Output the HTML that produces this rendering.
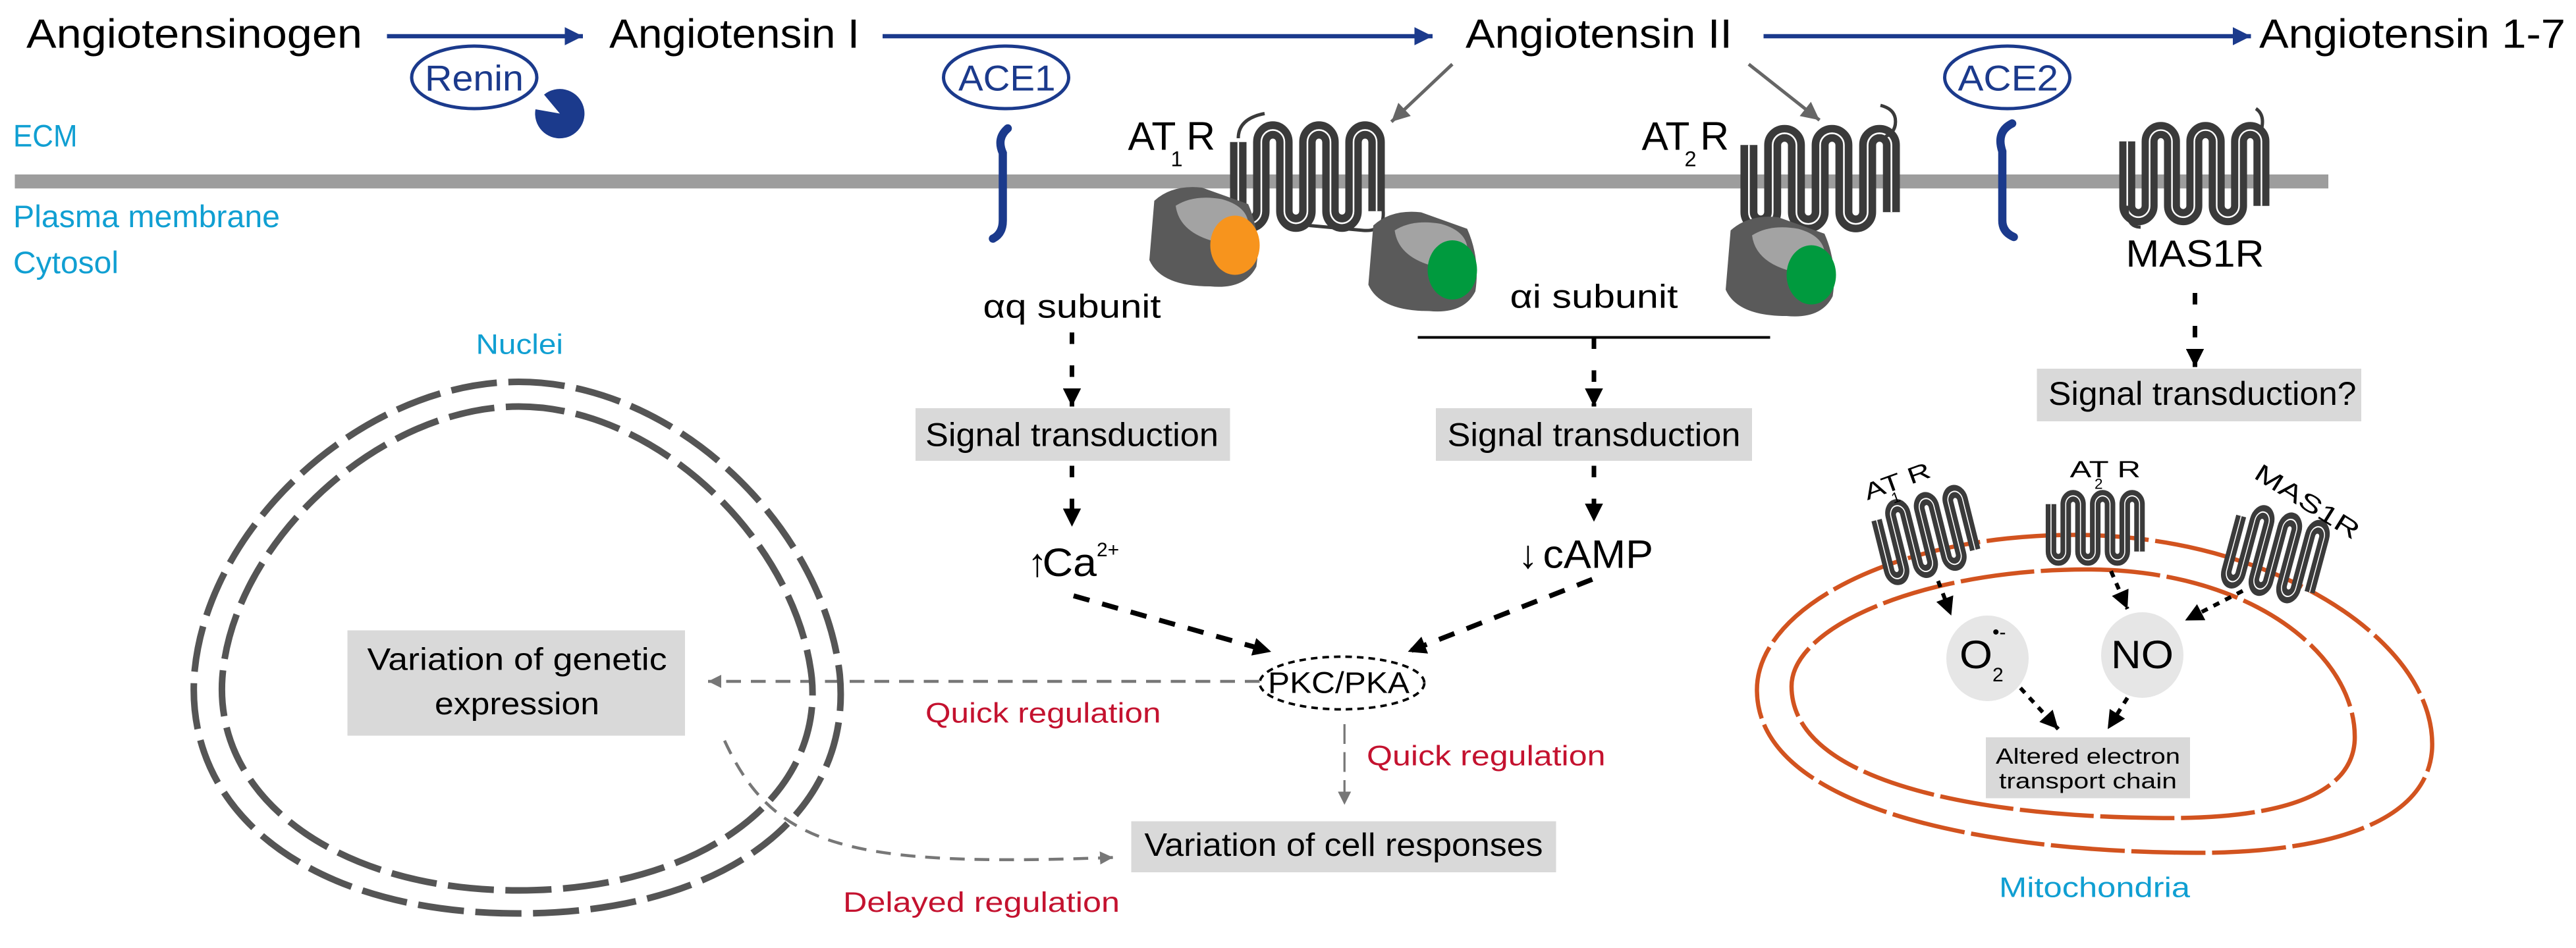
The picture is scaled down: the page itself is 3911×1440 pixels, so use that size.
<!DOCTYPE html>
<html><head><meta charset="utf-8"><style>
html,body{margin:0;padding:0;background:#fff;}
svg{display:block;}
text{font-family:"Liberation Sans",sans-serif;}
</style></head><body>
<svg width="3911" height="1440" viewBox="0 0 1564.4 576" preserveAspectRatio="none" xmlns="http://www.w3.org/2000/svg">
<defs>
<marker id="mn" viewBox="0 0 10 10" refX="10" refY="5" markerWidth="11" markerHeight="17" markerUnits="userSpaceOnUse" orient="auto"><path d="M0,0 L10,5 L0,10 z" fill="#1b3a8c"/></marker>
<marker id="mb" viewBox="0 0 10 10" refX="10" refY="5" markerWidth="13" markerHeight="11" markerUnits="userSpaceOnUse" orient="auto"><path d="M0,0 L10,5 L0,10 z" fill="#000"/></marker>
<marker id="mg" viewBox="0 0 10 10" refX="10" refY="5" markerWidth="13" markerHeight="11" markerUnits="userSpaceOnUse" orient="auto"><path d="M0,0 L10,5 L0,10 z" fill="#666"/></marker>
<marker id="mgs" viewBox="0 0 10 10" refX="10" refY="5" markerWidth="8" markerHeight="8" markerUnits="userSpaceOnUse" orient="auto"><path d="M0,0 L10,5 L0,10 z" fill="#777"/></marker>
<g id="rec">
<path d="M4,6 L4,46 A7,7 0 0 0 18,46 L18,6 A7,7 0 0 1 32,6 L32,46 A7,7 0 0 0 46,46 L46,6 A7,7 0 0 1 60,6 L60,46 A7,7 0 0 0 74,46 L74,6 A7,7 0 0 1 88,6 L88,46" fill="none" stroke="#3a3a3a" stroke-width="10"/>
<path d="M4,6 L4,46 A7,7 0 0 0 18,46 L18,6 A7,7 0 0 1 32,6 L32,46 A7,7 0 0 0 46,46 L46,6 A7,7 0 0 1 60,6 L60,46 A7,7 0 0 0 74,46 L74,6 A7,7 0 0 1 88,6 L88,46" fill="none" stroke="#fff" stroke-width="1"/>
</g>
</defs>

<rect x="9" y="106" width="1405" height="8.5" fill="#9d9d9d"/>

<g font-size="25" fill="#000">
<text x="16" y="29" textLength="204" lengthAdjust="spacingAndGlyphs">Angiotensinogen</text>
<text x="370" y="29" textLength="152" lengthAdjust="spacingAndGlyphs">Angiotensin I</text>
<text x="890" y="29" textLength="162" lengthAdjust="spacingAndGlyphs">Angiotensin II</text>
<text x="1372" y="29" textLength="186" lengthAdjust="spacingAndGlyphs">Angiotensin 1-7</text>
</g>
<g stroke="#1b3a8c" stroke-width="2.6" fill="none">
<line x1="235" y1="22" x2="354" y2="22" marker-end="url(#mn)"/>
<line x1="536" y1="22" x2="870" y2="22" marker-end="url(#mn)"/>
<line x1="1071" y1="22" x2="1367" y2="22" marker-end="url(#mn)"/>
<ellipse cx="288" cy="47" rx="38" ry="19" stroke-width="2"/>
<ellipse cx="611" cy="47" rx="38" ry="19" stroke-width="2"/>
<ellipse cx="1219" cy="47" rx="38" ry="19" stroke-width="2"/>
</g>
<g font-size="22" fill="#1b3a8c">
<text x="258" y="55" textLength="60" lengthAdjust="spacingAndGlyphs">Renin</text>
<text x="582" y="55" textLength="59" lengthAdjust="spacingAndGlyphs">ACE1</text>
<text x="1189" y="55" textLength="61" lengthAdjust="spacingAndGlyphs">ACE2</text>
</g>
<path d="M340,69 L330.4,57.5 A15,15 0 1,1 325.2,66.4 Z" fill="#1b3a8c"/>
<path d="M612,78 Q605,84 609,93 L609,134 Q609,142 603,145" fill="none" stroke="#1b3a8c" stroke-width="5" stroke-linecap="round"/>
<path d="M1222,75 Q1212,80 1216,92 L1216,134 Q1216,141 1223,144" fill="none" stroke="#1b3a8c" stroke-width="5" stroke-linecap="round"/>

<g fill="#109fd2" font-size="19">
<text x="8" y="89" textLength="39" lengthAdjust="spacingAndGlyphs">ECM</text>
<text x="8" y="138" textLength="162" lengthAdjust="spacingAndGlyphs">Plasma membrane</text>
<text x="8" y="166" textLength="64" lengthAdjust="spacingAndGlyphs">Cytosol</text>
<text x="289" y="215" font-size="17" textLength="53" lengthAdjust="spacingAndGlyphs">Nuclei</text>
<text x="1214" y="545" font-size="17" textLength="116" lengthAdjust="spacingAndGlyphs">Mitochondria</text>
</g>

<line x1="882" y1="39" x2="845" y2="74" stroke="#666" stroke-width="2" marker-end="url(#mg)"/>
<line x1="1062" y1="39" x2="1105" y2="73" stroke="#666" stroke-width="2" marker-end="url(#mg)"/>

<path d="M752,84 Q752,72 768,69" fill="none" stroke="#3a3a3a" stroke-width="2"/>
<use href="#rec" transform="translate(748,80) scale(1,1.05)"/>
<path d="M840,128 Q841,141 828,140 L795,137" fill="none" stroke="#3a3a3a" stroke-width="2"/>
<use href="#rec" transform="translate(1058,82) scale(1.03,1.02)"/>
<path d="M1145,83 Q1152,80 1151,72 Q1150,66 1142,64" fill="none" stroke="#3a3a3a" stroke-width="2"/>
<use href="#rec" transform="translate(1288,80) scale(0.97,0.98)"/>
<path d="M1292,125 Q1291,138 1300,138" fill="none" stroke="#3a3a3a" stroke-width="2"/>
<path d="M1373,80 Q1376,70 1370,66" fill="none" stroke="#3a3a3a" stroke-width="2"/>

<g font-size="24" fill="#000">
<text x="685" y="91" textLength="53" lengthAdjust="spacingAndGlyphs">AT R</text>
<text x="711" y="101" font-size="13">1</text>
<text x="997" y="91" textLength="53" lengthAdjust="spacingAndGlyphs">AT R</text>
<text x="1023" y="101" font-size="13">2</text>
<text x="1291" y="162" font-size="23" textLength="84" lengthAdjust="spacingAndGlyphs">MAS1R</text>
</g>

<path d="M701,122 Q712,112 730,114 L758,124 Q766,142 763,162 Q756,176 735,174 Q705,174 698,158 Z" fill="#5a5a5a"/>
<path d="M714,125 Q725,118 742,121 Q760,126 758,140 L735,146 Q716,140 714,125 Z" fill="#a3a3a3"/>
<ellipse cx="750" cy="149" rx="15" ry="18" fill="#f7941d"/>
<path d="M834,137 Q845,127 863,129 L891,139 Q899,157 896,177 Q889,191 868,189 Q838,189 831,173 Z" fill="#5a5a5a"/>
<path d="M847,140 Q858,133 875,136 Q893,141 891,155 L868,161 Q849,155 847,140 Z" fill="#a3a3a3"/>
<ellipse cx="882" cy="164" rx="15" ry="18" fill="#009a3e"/>
<path d="M1051,140 Q1062,130 1080,132 L1108,142 Q1116,160 1113,180 Q1106,194 1085,192 Q1055,192 1048,176 Z" fill="#5a5a5a"/>
<path d="M1064,143 Q1075,136 1092,139 Q1110,144 1108,158 L1085,164 Q1066,158 1064,143 Z" fill="#a3a3a3"/>
<ellipse cx="1100" cy="167" rx="15" ry="18" fill="#009a3e"/>

<g font-size="20" fill="#000">
<text x="597" y="193" textLength="108" lengthAdjust="spacingAndGlyphs">αq subunit</text>
<text x="917" y="187" textLength="102" lengthAdjust="spacingAndGlyphs">αi subunit</text>
</g>
<line x1="861" y1="205" x2="1075" y2="205" stroke="#000" stroke-width="1.6"/>

<g stroke="#000" stroke-width="2.8" stroke-dasharray="7 13" fill="none">
<line x1="651" y1="202" x2="651" y2="247" marker-end="url(#mb)"/>
<line x1="651" y1="283" x2="651" y2="320" marker-end="url(#mb)"/>
<line x1="968" y1="205" x2="968" y2="247" marker-end="url(#mb)"/>
<line x1="968" y1="283" x2="968" y2="317" marker-end="url(#mb)"/>
<line x1="1333" y1="178" x2="1333" y2="223" marker-end="url(#mb)"/>
</g>
<g stroke="#000" stroke-width="3" stroke-dasharray="10 8" fill="none">
<line x1="652" y1="362" x2="772" y2="396" marker-end="url(#mb)"/>
<line x1="967" y1="352" x2="855" y2="396" marker-end="url(#mb)"/>
</g>

<rect x="556" y="248" width="191" height="32" fill="#d9d9d9"/>
<rect x="872" y="248" width="192" height="32" fill="#d9d9d9"/>
<rect x="1237" y="224" width="197" height="32" fill="#d9d9d9"/>
<g font-size="20" fill="#000">
<text x="562" y="271" textLength="178" lengthAdjust="spacingAndGlyphs">Signal transduction</text>
<text x="879" y="271" textLength="178" lengthAdjust="spacingAndGlyphs">Signal transduction</text>
<text x="1244" y="246" textLength="187" lengthAdjust="spacingAndGlyphs">Signal transduction?</text>
</g>

<g fill="#000">
<text x="624" y="350" font-size="24">↑</text>
<text x="633" y="350" font-size="24" textLength="33" lengthAdjust="spacingAndGlyphs">Ca</text>
<text x="666" y="338" font-size="12">2+</text>
<text x="922" y="345" font-size="24">↓</text>
<text x="937" y="345" font-size="24" textLength="67" lengthAdjust="spacingAndGlyphs">cAMP</text>
</g>

<ellipse cx="815" cy="415" rx="50" ry="16" fill="none" stroke="#000" stroke-width="1.5" stroke-dasharray="4 3"/>
<text x="770" y="421" font-size="18" textLength="86" lengthAdjust="spacingAndGlyphs">PKC/PKA</text>

<line x1="765" y1="414" x2="430" y2="414" stroke="#777" stroke-width="1.8" stroke-dasharray="9 6" marker-end="url(#mgs)"/>
<line x1="816.5" y1="440" x2="816.5" y2="489" stroke="#777" stroke-width="1.3" stroke-dasharray="12 5" marker-end="url(#mgs)"/>
<path d="M440,450 C470,515 515,527 676,521" fill="none" stroke="#777" stroke-width="1.8" stroke-dasharray="9 6" marker-end="url(#mgs)"/>

<g fill="#c4122f" font-size="17">
<text x="562" y="439" textLength="143" lengthAdjust="spacingAndGlyphs">Quick regulation</text>
<text x="830" y="465" textLength="145" lengthAdjust="spacingAndGlyphs">Quick regulation</text>
<text x="512" y="554" textLength="168" lengthAdjust="spacingAndGlyphs">Delayed regulation</text>
</g>

<g fill="none" stroke="#555" stroke-width="4" stroke-dasharray="28 7">
<path d="M315,232 C410,232 500,320 510,410 C518,495 440,555 315,555 C190,555 112,495 118,410 C125,320 220,232 315,232 Z"/>
<path d="M315,247 C400,247 484,330 493,412 C500,485 425,541 315,541 C205,541 130,485 135,412 C141,330 230,247 315,247 Z"/>
</g>
<rect x="211" y="383" width="205" height="64" fill="#d9d9d9"/>
<g font-size="19" fill="#000" text-anchor="middle">
<text x="314" y="407" textLength="182" lengthAdjust="spacingAndGlyphs">Variation of genetic</text>
<text x="314" y="434" textLength="100" lengthAdjust="spacingAndGlyphs">expression</text>
</g>
<rect x="687" y="499" width="258" height="31" fill="#d9d9d9"/>
<text x="695" y="520" font-size="19.5" textLength="242" lengthAdjust="spacingAndGlyphs">Variation of cell responses</text>

<g fill="none" stroke="#d2531f" stroke-width="2.6" stroke-dasharray="45 4">
<path d="M1260,325 C1380,325 1480,390 1477,455 C1474,505 1400,520 1320,518 C1200,516 1068,490 1067,420 C1066,370 1150,325 1260,325 Z"/>
<path d="M1267,346 C1370,346 1432,400 1430,450 C1428,485 1380,498 1310,497 C1200,496 1088,475 1088,417 C1088,380 1170,346 1267,346 Z"/>
</g>
<use href="#rec" transform="translate(1136,312) rotate(-14) scale(0.64,0.8)"/>
<use href="#rec" transform="translate(1243,302) scale(0.64,0.72)"/>
<use href="#rec" transform="translate(1360,308) rotate(15) scale(0.62,0.85)"/>
<g font-size="14" fill="#000">
<text transform="translate(1134,304) rotate(-20)" textLength="42" lengthAdjust="spacingAndGlyphs">AT R</text>
<text transform="translate(1150,306) rotate(-20)" font-size="9">1</text>
<text x="1257" y="290" textLength="43" lengthAdjust="spacingAndGlyphs">AT R</text>
<text x="1272" y="297" font-size="9">2</text>
<text transform="translate(1368,290) rotate(32)" font-size="15" textLength="72" lengthAdjust="spacingAndGlyphs">MAS1R</text>
</g>
<ellipse cx="1207" cy="400" rx="25" ry="26" fill="#e6e6e6"/>
<ellipse cx="1301" cy="398" rx="25" ry="26" fill="#e6e6e6"/>
<text x="1190" y="406" font-size="24" textLength="20" lengthAdjust="spacingAndGlyphs">O</text>
<text x="1210" y="414" font-size="12">2</text>
<text x="1210" y="388" font-size="12">•-</text>
<text x="1282" y="406" font-size="24" textLength="38" lengthAdjust="spacingAndGlyphs">NO</text>
<g stroke="#000" stroke-width="2.4" stroke-dasharray="4 4" fill="none">
<line x1="1177" y1="353" x2="1185" y2="374" marker-end="url(#mb)"/>
<line x1="1282" y1="347" x2="1292" y2="370" marker-end="url(#mb)"/>
<line x1="1362" y1="359" x2="1327" y2="377" marker-end="url(#mb)"/>
<line x1="1227" y1="418" x2="1250" y2="443" marker-end="url(#mb)"/>
<line x1="1292" y1="424" x2="1280" y2="443" marker-end="url(#mb)"/>
</g>
<rect x="1206" y="448" width="124" height="37" fill="#d9d9d9"/>
<g font-size="13.5" fill="#000" text-anchor="middle">
<text x="1268" y="464" textLength="112" lengthAdjust="spacingAndGlyphs">Altered electron</text>
<text x="1268" y="479" textLength="108" lengthAdjust="spacingAndGlyphs">transport chain</text>
</g>
</svg>
</body></html>
